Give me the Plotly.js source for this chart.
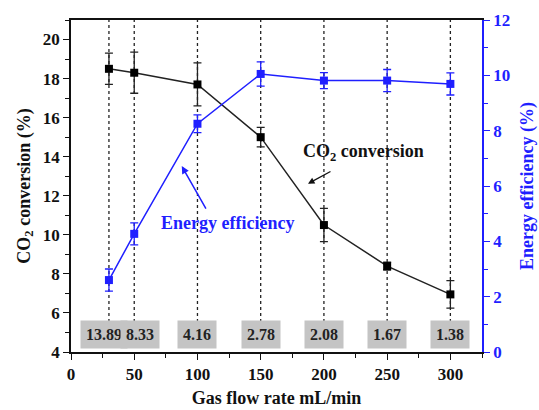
<!DOCTYPE html>
<html><head><meta charset="utf-8">
<script src="https://cdn.plot.ly/plotly-3.0.1.min.js"></script>
</head><body style="margin:0;padding:0;background:#fff"><div id="chart" style="width:539px;height:410px"></div>
<script>
const flowRate = [30, 50, 100, 150, 200, 250, 300];
const co2Conversion = [18.5, 18.3, 17.7, 15.0, 10.5, 8.4, 6.95];
const co2Error = [0.8, 1.05, 1.1, 0.5, 0.85, 0.2, 0.7];
const energyEfficiency = [2.6, 4.27, 8.25, 10.05, 9.81, 9.81, 9.69];
const energyError = [0.4, 0.4, 0.32, 0.44, 0.29, 0.4, 0.4];
const boxLabels = ['13.89', '8.33', '4.16', '2.78', '2.08', '1.67', '1.38'];

const BLUE = '#1f1fff';
const FONT = 'Liberation Serif';

const traces = [
  {x: flowRate, y: co2Conversion, type: 'scatter', mode: 'lines+markers',
   line: {color: '#222', width: 1.5}, marker: {symbol: 'square', size: 8, color: '#000'},
   error_y: {type: 'data', array: co2Error, visible: true, color: '#222', thickness: 1.3, width: 4},
   yaxis: 'y', showlegend: false},
  {x: flowRate, y: energyEfficiency, type: 'scatter', mode: 'lines+markers',
   line: {color: BLUE, width: 1.5}, marker: {symbol: 'square', size: 8, color: BLUE},
   error_y: {type: 'data', array: energyError, visible: true, color: BLUE, thickness: 1.3, width: 4},
   yaxis: 'y2', showlegend: false}
];

const shapes = flowRate.map(v => ({type: 'line', xref: 'x', yref: 'paper', x0: v, x1: v, y0: 0.09, y1: 1,
  line: {color: '#222', width: 1.3, dash: 'dot'}, layer: 'below'}));

const shifts = [-5, 6, 0, 0, 0, 0, 0];
const annotations = boxLabels.map((t, i) => ({
  x: flowRate[i], y: 4.92, xref: 'x', yref: 'y', text: t, showarrow: false,
  xshift: shifts[i],
  font: {family: FONT, size: 16, color: '#222', weight: 700},
  bgcolor: '#c4c4c4', borderpad: 5
}));
annotations.push({x: 231, y: 14.2, xref: 'x', yref: 'y', text: 'CO<sub>2</sub> conversion', showarrow: false,
  font: {family: FONT, size: 18, color: '#111', weight: 700}});
annotations.push({x: 187.4, y: 12.62, xref: 'x', yref: 'y', text: '', showarrow: true,
  ax: 24, ay: -13, arrowhead: 2, arrowsize: 1, arrowwidth: 1.3, arrowcolor: '#111'});
annotations.push({x: 124, y: 10.6, xref: 'x', yref: 'y', text: 'Energy efficiency', showarrow: false,
  font: {family: FONT, size: 18, color: BLUE, weight: 700}});
annotations.push({x: 87.6, y: 13.52, xref: 'x', yref: 'y', text: '', showarrow: true,
  ax: 25, ay: 44, arrowhead: 2, arrowsize: 1, arrowwidth: 1.5, arrowcolor: BLUE});

const tickFont = {family: FONT, size: 17, color: '#111', weight: 700};

const layout = {
  width: 539, height: 410,
  margin: {l: 71, r: 57, t: 20, b: 58},
  paper_bgcolor: '#fff', plot_bgcolor: '#fff',
  xaxis: {range: [0, 325], dtick: 50, tick0: 0, showgrid: false, zeroline: false,
    showline: true, linecolor: '#111', linewidth: 1.5, mirror: true,
    ticks: 'outside', ticklen: 6, tickwidth: 1.3, tickcolor: '#111',
    minor: {dtick: 25, ticks: 'outside', ticklen: 4, tickcolor: '#111'},
    tickfont: tickFont,
    title: {text: 'Gas flow rate mL/min', font: {family: FONT, size: 18, color: '#111', weight: 700}, standoff: 8}},
  yaxis: {range: [4, 21], dtick: 2, tick0: 4, showgrid: false, zeroline: false,
    showline: true, linecolor: '#111', linewidth: 1.5,
    ticks: 'outside', ticklen: 6, tickwidth: 1.3, tickcolor: '#111',
    minor: {dtick: 1, ticks: 'outside', ticklen: 4, tickcolor: '#111'},
    tickfont: tickFont,
    title: {text: 'CO<sub>2</sub> conversion (%)', font: {family: FONT, size: 18, color: '#111', weight: 700}, standoff: 8}},
  yaxis2: {range: [0, 12], dtick: 2, tick0: 0, overlaying: 'y', side: 'right', showgrid: false, zeroline: false,
    showline: true, linecolor: BLUE, linewidth: 1.5,
    ticks: 'outside', ticklen: 6, tickwidth: 1.3, tickcolor: BLUE,
    minor: {dtick: 1, ticks: 'outside', ticklen: 4, tickcolor: BLUE},
    tickfont: {family: FONT, size: 17, color: BLUE, weight: 700},
    title: {text: 'Energy efficiency (%)', font: {family: FONT, size: 18, color: BLUE, weight: 700}, standoff: 11}},
  shapes: shapes,
  annotations: annotations
};

Plotly.newPlot('chart', traces, layout, {displayModeBar: false});
</script></body></html>
